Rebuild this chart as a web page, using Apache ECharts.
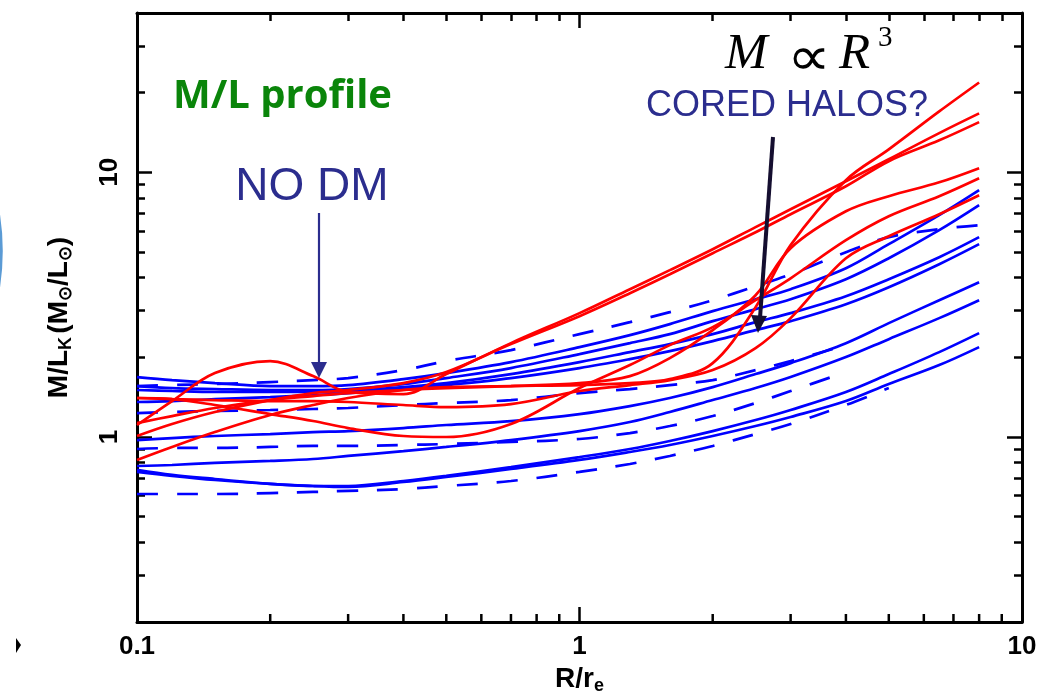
<!DOCTYPE html>
<html><head><meta charset="utf-8">
<script src="https://cdn.jsdelivr.net/npm/echarts@6/dist/echarts.min.js"></script>
<style>html,body{margin:0;padding:0;background:#fff}#c{width:1053px;height:700px}</style>
</head><body><div id="c"></div>
<script>
// ---- data (R/r_e on x, M/L_K on y) ----
const radius = [0.1,0.12,0.15,0.2,0.25,0.3,0.4,0.5,0.7,1,1.3,1.6,2,2.5,3,4,5,6.5,8];

// blue, solid
const blueA = [1.685,1.641,1.599,1.558,1.558,1.571,1.655,1.744,1.919,2.186,2.426,2.670,2.990,3.317,3.618,4.341,5.354,6.889,8.562];
const blueB = [1.558,1.531,1.518,1.505,1.505,1.518,1.585,1.670,1.822,2.057,2.263,2.447,2.740,3.042,3.317,3.947,4.736,6.047,7.517];
const blueC = [1.505,1.492,1.479,1.479,1.479,1.492,1.544,1.599,1.729,1.919,2.093,2.244,2.447,2.716,2.938,3.405,3.947,4.778,5.689];
const blueD = [1.356,1.367,1.391,1.416,1.441,1.466,1.518,1.571,1.670,1.822,1.970,2.111,2.303,2.534,2.740,3.176,3.681,4.496,5.354];
const blueE = [0.974,0.991,1.009,1.026,1.044,1.053,1.081,1.110,1.149,1.221,1.309,1.404,1.544,1.729,1.902,2.263,2.693,3.288,3.844];
const blueF = [0.777,0.784,0.798,0.812,0.826,0.848,0.885,0.917,0.974,1.053,1.139,1.243,1.379,1.531,1.685,2.004,2.343,2.813,3.288];
const blueG = [0.738,0.713,0.688,0.665,0.653,0.653,0.682,0.713,0.770,0.840,0.901,0.966,1.053,1.159,1.265,1.479,1.729,2.093,2.469];
const blueH = [0.751,0.719,0.694,0.665,0.653,0.648,0.676,0.706,0.757,0.819,0.878,0.933,1.009,1.100,1.190,1.367,1.585,1.870,2.186];

// blue, dashed
const dashA = [1.558,1.571,1.585,1.613,1.641,1.670,1.790,1.936,2.130,2.447,2.716,2.964,3.288,3.714,4.119,4.990,5.689,6.100,6.316];
const dashB = [1.232,1.243,1.254,1.265,1.276,1.287,1.321,1.344,1.379,1.466,1.518,1.571,1.641,1.790,1.936,2.224,null,null,null];
const dashC = [0.901,0.909,0.909,0.917,0.925,0.925,0.933,0.941,0.958,0.983,1.035,1.100,1.200,1.344,1.492,1.759,null,null,null];
const dashD = [0.609,0.609,0.609,0.614,0.620,0.626,0.636,0.653,0.682,0.738,0.791,0.848,0.925,1.026,1.120,1.321,1.531,null,null];

// red
const redA = [1.110,1.367,1.744,1.936,1.699,1.479,1.453,1.729,2.263,2.938,3.619,4.270,5.122,6.207,7.250,9.250,11.21,14.07,16.70];
const redB = [1.009,1.120,1.243,1.379,1.466,1.505,1.599,1.759,2.244,2.862,3.494,4.119,4.948,5.937,6.949,8.856,11.02,13.21,15.48];
const redC = [1.404,1.391,1.321,1.221,1.149,1.081,1.009,1.000,1.120,1.531,1.870,2.224,2.601,3.288,3.979,5.543,6.829,8.127,9.504];
const redD = [1.129,1.200,1.287,1.379,1.428,1.466,1.505,1.531,1.558,1.599,1.699,1.987,2.534,3.434,5.171,7.125,8.127,9.170,10.37];
const redE = [0.819,0.917,1.044,1.211,1.321,1.404,1.505,1.544,1.558,1.571,1.599,1.655,1.902,3.094,5.308,9.340,12.21,16.99,21.85];
const redF = [1.404,1.391,1.379,1.367,1.367,1.356,1.321,1.298,1.332,1.492,1.571,1.641,1.790,2.167,2.813,4.736,5.739,6.949,8.198];

// axis ranges and tick values
const X_RANGE = [0.1, 10];
const Y_RANGE = [0.2, 40];
const xMinorTicks = [0.2,0.3,0.4,0.5,0.6,0.7,0.8,0.9,2,3,4,5,6,7,8,9];
const xMajorTicks = [1];
const yMinorTicks = [0.3,0.4,0.5,0.6,0.7,0.8,0.9,2,3,4,5,6,7,8,9,20,30];
const yMajorTicks = [1,10];

// ---- chart ----
const BLUE = '#0000ff', RED = '#ff0000', NAVY = '#2b2d8e';
const lg = Math.log10;

function decadeLabel(v){
  const e = lg(v);
  if (Math.abs(e - Math.round(e)) > 1e-6) return '';
  return v < 1 ? v.toFixed(1) : String(Math.round(v));
}

function tickAxis(isX, gridIndex, position, values, len, showLine){
  const r = isX ? X_RANGE : Y_RANGE;
  return {
    type:'value', gridIndex:gridIndex, position:position,
    min: lg(r[0]), max: lg(r[1]), silent:true,
    axisLine:{show:!!showLine, onZero:false, lineStyle:{color:'#000', width:3}},
    axisTick:{show:true, inside:true, length:len, customValues: values.map(lg),
              lineStyle:{color:'#000', width:2.5}},
    axisLabel:{show:false}, splitLine:{show:false}, splitArea:{show:false}
  };
}

const nameRich = {
  a:{fontSize:28, fontWeight:'bold', fontFamily:'Liberation Sans', color:'#000', lineHeight:32, verticalAlign:'middle'},
  s:{fontSize:18, fontWeight:'bold', fontFamily:'Liberation Sans', color:'#000', lineHeight:16, verticalAlign:'bottom'}
};

const curves = [
  {vals:blueA, color:BLUE, dash:false}, {vals:blueB, color:BLUE, dash:false},
  {vals:blueC, color:BLUE, dash:false}, {vals:blueD, color:BLUE, dash:false},
  {vals:blueE, color:BLUE, dash:false}, {vals:blueF, color:BLUE, dash:false},
  {vals:blueG, color:BLUE, dash:false}, {vals:blueH, color:BLUE, dash:false},
  {vals:dashA, color:BLUE, dash:true}, {vals:dashB, color:BLUE, dash:true},
  {vals:dashC, color:BLUE, dash:true}, {vals:dashD, color:BLUE, dash:true},
  {vals:redA, color:RED, dash:false}, {vals:redB, color:RED, dash:false},
  {vals:redC, color:RED, dash:false}, {vals:redD, color:RED, dash:false},
  {vals:redE, color:RED, dash:false}, {vals:redF, color:RED, dash:false}
];

const series = curves.map((c) => ({
  type:'line', xAxisIndex:0, yAxisIndex:0,
  data: radius.map((r, i) => c.vals[i] == null ? null : [r, c.vals[i]]).filter(Boolean),
  smooth:0.35, showSymbol:false, symbol:'none', silent:true,
  z: c.color === RED ? 4 : 3,
  lineStyle:{color:c.color, width:2.7, type: c.dash ? [21,19] : 'solid'}
}));

const gridRect = {left:137, top:13, right:31, bottom:78, containLabel:false, outerBoundsMode:'none'};

const annotations = [
  // slide decorations at the left edge
  {type:'arc', z:100, shape:{cx:-244, cy:251, r:245, startAngle:-0.18, endAngle:0.18},
   style:{stroke:'#5b9bd5', lineWidth:3.5, fill:null}},
  {type:'polygon', z:100, shape:{points:[[16,638],[21,645],[16,653]]}, style:{fill:'#000'}},
  // titles / annotations
  {type:'text', z:100, x:173, y:97,
   style:{text:'M/L profile', fill:'#0a850a', fontSize:40, fontWeight:'bold', fontFamily:'Open Sans', align:'left', verticalAlign:'middle'}},
  {type:'text', z:100, x:312, y:187,
   style:{text:'NO DM', fill:NAVY, fontSize:46, fontFamily:'Liberation Sans', align:'center', verticalAlign:'middle'}},
  {type:'line', z:100, shape:{x1:319, y1:213, x2:319, y2:366}, style:{stroke:NAVY, lineWidth:2.2}},
  {type:'polygon', z:100, shape:{points:[[311,362],[327,362],[319,378]]}, style:{fill:NAVY}},
  {type:'text', z:100, x:725, y:55,
   style:{text:'M', fill:'#000', fontSize:51, fontStyle:'italic', fontFamily:'Liberation Serif', align:'left', verticalAlign:'middle'}},
  {type:'text', z:100, x:787, y:61, scaleX:1.45, scaleY:1.3,
   style:{text:'∝', fill:'#000', fontSize:42, fontFamily:'Liberation Serif', align:'left', verticalAlign:'middle'}},
  {type:'text', z:100, x:839, y:55,
   style:{text:'R', fill:'#000', fontSize:51, fontStyle:'italic', fontFamily:'Liberation Serif', align:'left', verticalAlign:'middle'}},
  {type:'text', z:100, x:878, y:38,
   style:{text:'3', fill:'#000', fontSize:29, fontFamily:'Liberation Serif', align:'left', verticalAlign:'middle'}},
  {type:'text', z:100, x:787, y:106,
   style:{text:'CORED HALOS?', fill:NAVY, fontSize:36, fontFamily:'Liberation Sans', align:'center', verticalAlign:'middle'}},
  {type:'line', z:100, shape:{x1:773, y1:137, x2:760, y2:318}, style:{stroke:'#150f30', lineWidth:4}},
  {type:'polygon', z:100, shape:{points:[[767,316],[751,315],[758,333]]}, style:{fill:'#150f30'}}
];

const option = {
  backgroundColor:'#ffffff',
  animation:false,
  grid:[Object.assign({}, gridRect), Object.assign({}, gridRect), Object.assign({}, gridRect)],
  xAxis:[
    {type:'log', logBase:10, min:X_RANGE[0], max:X_RANGE[1], position:'bottom', gridIndex:0,
     axisLine:{show:true, onZero:false, lineStyle:{color:'#000', width:3}},
     axisTick:{show:false}, splitLine:{show:false}, minorTick:{show:false},
     axisLabel:{formatter:decadeLabel, fontSize:26, fontWeight:'bold', fontFamily:'Liberation Sans', color:'#000', margin:12,
                showMinLabel:true, showMaxLabel:true},
     name:'{a|R/r}{s|e}', nameLocation:'middle', nameGap:40,
     nameTextStyle:{rich:nameRich}},
    tickAxis(true, 0, 'top', xMinorTicks, 8, true),
    tickAxis(true, 1, 'top', xMajorTicks, 15, false),
    {type:'value', gridIndex:2, position:'bottom', show:false, min:0, max:1}
  ],
  yAxis:[
    {type:'log', logBase:10, min:Y_RANGE[0], max:Y_RANGE[1], position:'left', gridIndex:0,
     axisLine:{show:true, onZero:false, lineStyle:{color:'#000', width:3}},
     axisTick:{show:false}, splitLine:{show:false}, minorTick:{show:false},
     axisLabel:{formatter:decadeLabel, rotate:90, fontSize:26, fontWeight:'bold', fontFamily:'Liberation Sans', color:'#000', margin:14},
     name:'{a|M/L}{s|K} {a|(M}{s|⊙}{a|/L}{s|⊙}{a|)}', nameLocation:'middle', nameGap:62,
     nameTextStyle:{rich:nameRich}},
    tickAxis(false, 0, 'right', yMinorTicks, 8, true),
    tickAxis(false, 1, 'left', yMinorTicks, 8, false),
    tickAxis(false, 1, 'right', yMajorTicks, 15, false),
    tickAxis(false, 2, 'left', yMajorTicks, 15, false)
  ],
  series: series,
  graphic: annotations
};

const chart = echarts.init(document.getElementById('c'), null, {renderer:'canvas', width:1053, height:700});
chart.setOption(option);

// bottom-frame ticks: x from the log x scale, y from the grid's own layout rect
const bottomTickEls = [];
let bottomY = NaN;
try {
  const rect = chart.getModel().getComponent('grid', 0).coordinateSystem.getRect();
  bottomY = rect.y + rect.height;
} catch (e) { /* ignore */ }
function addBottomTicks(values, len){
  values.forEach(v => {
    let x = NaN;
    try { x = chart.convertToPixel({xAxisIndex:0}, v); } catch (e) { /* ignore */ }
    if (Array.isArray(x)) x = x[0];
    if (!isFinite(x) || !isFinite(bottomY)) return;
    bottomTickEls.push({type:'rect', z:100, silent:true,
      shape:{x:x - 1.25, y:bottomY - len, width:2.5, height:len},
      style:{fill:'#000'}});
  });
}
addBottomTicks(xMinorTicks, 8);
addBottomTicks(xMajorTicks, 15);
chart.setOption({graphic: annotations.concat(bottomTickEls)});
</script>
</body></html>
